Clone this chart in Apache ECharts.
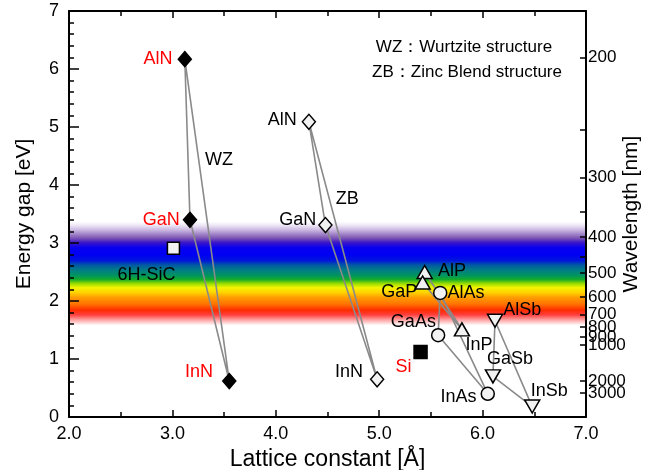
<!DOCTYPE html>
<html>
<head>
<meta charset="utf-8">
<script src="https://cdn.jsdelivr.net/npm/echarts@6/dist/echarts.min.js"></script>
<style>
html, body { margin: 0; padding: 0; background: #fff; }
#chart { width: 651px; height: 470px; }
</style>
</head>
<body>
<div id="chart"></div>
<script>
// Lattice constant (Å) versus band gap (eV) for common semiconductors

// Wurtzite nitrides
const wzNames = ['AlN', 'GaN', 'InN'];
const wzA = [3.12, 3.17, 3.55];
const wzEg = [6.17, 3.40, 0.62];

// Zinc-blende nitrides
const zbNitNames = ['AlN', 'GaN', 'InN'];
const zbNitA = [4.32, 4.48, 4.98];
const zbNitEg = [5.09, 3.31, 0.65];

// Phosphides
const phosNames = ['AlP', 'GaP', 'InP'];
const phosA = [5.44, 5.42, 5.80];
const phosEg = [2.50, 2.32, 1.51];

// Arsenides
const arsNames = ['AlAs', 'GaAs', 'InAs'];
const arsA = [5.59, 5.57, 6.05];
const arsEg = [2.14, 1.41, 0.40];

// Antimonides
const antNames = ['AlSb', 'GaSb', 'InSb'];
const antA = [6.12, 6.10, 6.48];
const antEg = [1.66, 0.70, 0.18];

// Single points
const sicA = [3.01], sicEg = [2.91];
const siA = [5.40], siEg = [1.12];

// Structure tags placed next to the nitride triangles
const tagText = ['WZ', 'ZB'];
const tagA = [3.45, 4.69];
const tagEg = [4.43, 3.76];

// Wavelength axis (nm): labelled ticks and extra unlabelled ticks
const wavelengthTicks = [200, 300, 400, 500, 600, 700, 800, 900, 1000, 2000, 3000];
const wavelengthMinor = [250, 350, 450];
const HC = 1240; // eV·nm

// Visible-spectrum band (eV)
const bandLow = 1.58, bandHigh = 3.37;

const FONT = 'Liberation Sans, Arial, Helvetica, sans-serif';
const LINE_COLOR = '#8a8a8a';
const OPEN_FILL = '#f2f2f2';

function pairs(a, e) { return a.map((x, i) => [x, e[i]]); }
function closed(a, e) { const p = pairs(a, e); return p.concat([p[0]]); }

// Label placement for each marker, keyed by group and name
const placement = {
  'wz:AlN': { position: 'left', offset: [0, 0], color: '#ff0000' },
  'wz:GaN': { position: 'left', offset: [2, 0], color: '#ff0000' },
  'wz:InN': { position: 'left', offset: [-4, -9], color: '#ff0000' },
  'zb:AlN': { position: 'left', offset: [0, -2] },
  'zb:GaN': { position: 'left', offset: [3, -5] },
  'zb:InN': { position: 'left', offset: [-2, -7] },
  'p:AlP': { position: 'right', offset: [0, -1] },
  'p:GaP': { position: 'left', offset: [8, 10] },
  'p:InP': { position: 'bottom', offset: [17, -6] },
  'as:AlAs': { position: 'right', offset: [-5, 0] },
  'as:GaAs': { position: 'left', offset: [10, -13] },
  'as:InAs': { position: 'left', offset: [1, 3] },
  'sb:AlSb': { position: 'right', offset: [-5, -11] },
  'sb:GaSb': { position: 'top', offset: [17, 4] },
  'sb:InSb': { position: 'top', offset: [17, 6] },
  'sic:6H-SiC': { position: 'bottom', offset: [-27, 6] },
  'si:Si': { position: 'bottom', offset: [-17, -6], color: '#ff0000' }
};

function markerData(group, names, a, e) {
  return names.map((n, i) => {
    const p = placement[group + ':' + n] || { position: 'right', offset: [0, 0] };
    return {
      value: [a[i], e[i]],
      name: n,
      label: {
        show: true,
        formatter: n,
        position: p.position,
        distance: 5,
        offset: p.offset,
        color: p.color || '#000',
        fontSize: 18,
        fontFamily: FONT
      }
    };
  });
}

function triangleLine(a, e) {
  return {
    type: 'line',
    data: closed(a, e),
    symbol: 'none',
    silent: true,
    z: 2,
    lineStyle: { color: LINE_COLOR, width: 1.6 },
    animation: false
  };
}

function markers(group, names, a, e, symbol, fill, size, rotate) {
  return {
    type: 'scatter',
    data: markerData(group, names, a, e),
    symbol: symbol,
    symbolSize: size,
    symbolRotate: rotate || 0,
    z: 3,
    itemStyle: { color: fill, borderColor: '#000', borderWidth: 1.5, opacity: 1 },
    animation: false
  };
}

// Colour stops of the spectrum band, given by photon energy (eV)
const bandStops = [
  [3.37, '#ffffff'], [3.30, '#ece4f4'], [3.22, '#c8b4e0'], [3.14, '#9a7cc4'],
  [3.08, '#7a52b4'], [3.01, '#3c18c8'], [2.92, '#0800ee'], [2.80, '#0000f4'],
  [2.70, '#0014dc'], [2.62, '#0058a4'], [2.53, '#007e84'], [2.44, '#009460'],
  [2.37, '#14ac28'], [2.30, '#98dc00'], [2.23, '#f4f400'], [2.15, '#ffd400'],
  [2.06, '#ff9c00'], [1.95, '#ff7400'], [1.84, '#ff2c00'], [1.76, '#ff4040'],
  [1.68, '#ff9c9c'], [1.62, '#ffd8d8'], [1.58, '#ffffff']
];
const bandGradient = {
  type: 'linear', x: 0, y: 0, x2: 0, y2: 1,
  colorStops: bandStops.map(s => ({ offset: (bandHigh - s[0]) / (bandHigh - bandLow), color: s[1] }))
};

const axisLineStyle = { color: '#000', width: 2 };

// Wavelength labels are split over several label-only axes so that
// crowded neighbours are all drawn
function wavelengthLabelAxis(list) {
  return {
    type: 'value', position: 'right', min: 0, max: 7, z: 10,
    axisLine: { show: false }, axisTick: { show: false }, splitLine: { show: false },
    axisLabel: {
      color: '#000', fontSize: 17, fontFamily: FONT, margin: 2, hideOverlap: false,
      customValues: list.map(w => HC / w),
      formatter: v => String(Math.round(HC / v / 10) * 10)
    }
  };
}
const labelGroups = [[], [], []];
wavelengthTicks.forEach((w, i) => labelGroups[i % 3].push(w));

const option = {
  backgroundColor: '#fff',
  animation: false,
  grid: { left: 69, right: 65, top: 11, bottom: 53, containLabel: false, outerBoundsMode: 'none' },
  xAxis: [
    {
      type: 'value', position: 'bottom', min: 2, max: 7, interval: 1, z: 10,
      axisLine: { show: true, onZero: false, lineStyle: axisLineStyle },
      axisTick: { show: true, inside: true, length: 7, lineStyle: { color: '#000', width: 1.5 } },
      minorTick: { show: true, splitNumber: 2, length: 5, lineStyle: { color: '#000', width: 1.5 } },
      splitLine: { show: false },
      axisLabel: { formatter: v => v.toFixed(1), color: '#000', fontSize: 18, fontFamily: FONT, margin: 8 },
      name: 'Lattice constant [Å]', nameLocation: 'middle', nameGap: 31, nameMoveOverlap: false,
      nameTextStyle: { color: '#000', fontSize: 23, fontFamily: FONT }
    },
    {
      type: 'value', position: 'top', min: 2, max: 7, interval: 1, z: 10,
      axisLine: { show: true, onZero: false, lineStyle: axisLineStyle },
      axisTick: { show: true, inside: true, length: 7, lineStyle: { color: '#000', width: 1.5 } },
      minorTick: { show: true, splitNumber: 2, length: 5, lineStyle: { color: '#000', width: 1.5 } },
      splitLine: { show: false },
      axisLabel: { show: false }
    }
  ],
  yAxis: [
    {
      type: 'value', position: 'left', min: 0, max: 7, interval: 1, z: 10,
      axisLine: { show: true, onZero: false, lineStyle: axisLineStyle },
      axisTick: { show: true, inside: true, length: 10, lineStyle: { color: '#000', width: 1.5 } },
      minorTick: { show: true, splitNumber: 5, length: 5, lineStyle: { color: '#000', width: 1.5 } },
      splitLine: { show: false },
      axisLabel: { color: '#000', fontSize: 18, fontFamily: FONT, margin: 10 },
      name: 'Energy gap [eV]', nameLocation: 'middle', nameGap: 34, nameRotate: 90,
      nameTextStyle: { color: '#000', fontSize: 21, fontFamily: FONT }
    },
    {
      type: 'value', position: 'right', min: 0, max: 7, z: 10,
      axisLine: { show: true, onZero: false, lineStyle: axisLineStyle },
      axisTick: {
        show: true, inside: true, length: 6, lineStyle: { color: '#000', width: 1.5 },
        customValues: wavelengthTicks.concat(wavelengthMinor).map(w => HC / w)
      },
      splitLine: { show: false },
      axisLabel: { show: false },
      name: 'Wavelength [nm]', nameLocation: 'middle', nameGap: 35, nameRotate: 90, nameMoveOverlap: false,
      nameTextStyle: { color: '#000', fontSize: 21, fontFamily: FONT }
    },
    wavelengthLabelAxis(labelGroups[0]),
    wavelengthLabelAxis(labelGroups[1]),
    wavelengthLabelAxis(labelGroups[2])
  ],
  graphic: [
    {
      type: 'text', x: 464, y: 47, z: 20,
      style: { text: 'WZ：Wurtzite structure', fill: '#000', fontSize: 17, fontFamily: FONT, textAlign: 'center', textVerticalAlign: 'middle' }
    },
    {
      type: 'text', x: 467, y: 72, z: 20,
      style: { text: 'ZB：Zinc Blend structure', fill: '#000', fontSize: 17, fontFamily: FONT, textAlign: 'center', textVerticalAlign: 'middle' }
    }
  ],
  series: [
    {
      // visible-spectrum band
      type: 'line', data: [], silent: true, z: 1,
      markArea: {
        silent: true,
        itemStyle: { color: bandGradient, opacity: 1 },
        data: [[{ yAxis: bandHigh }, { yAxis: bandLow }]]
      }
    },
    triangleLine(wzA, wzEg),
    triangleLine(zbNitA, zbNitEg),
    triangleLine(phosA, phosEg),
    triangleLine(arsA, arsEg),
    triangleLine(antA, antEg),
    markers('wz', wzNames, wzA, wzEg, 'diamond', '#000', [13, 15]),
    markers('zb', zbNitNames, zbNitA, zbNitEg, 'diamond', OPEN_FILL, [13, 15]),
    markers('p', phosNames, phosA, phosEg, 'triangle', OPEN_FILL, [15, 13]),
    markers('as', arsNames, arsA, arsEg, 'circle', OPEN_FILL, 13),
    markers('sb', antNames, antA, antEg, 'triangle', OPEN_FILL, [15, 13], 180),
    markers('sic', ['6H-SiC'], sicA, sicEg, 'rect', OPEN_FILL, 12),
    markers('si', ['Si'], siA, siEg, 'rect', '#000', 13),
    {
      type: 'scatter', symbolSize: 0, silent: true, z: 4,
      itemStyle: { opacity: 1 },
      data: tagText.map((t, i) => ({ value: [tagA[i], tagEg[i]], name: t })),
      label: { show: true, position: 'inside', formatter: p => p.name, color: '#000', opacity: 1, fontSize: 18, fontFamily: FONT }
    }
  ]
};

const chart = echarts.init(document.getElementById('chart'), null, { renderer: 'canvas' });
chart.setOption(option);
</script>
</body>
</html>
